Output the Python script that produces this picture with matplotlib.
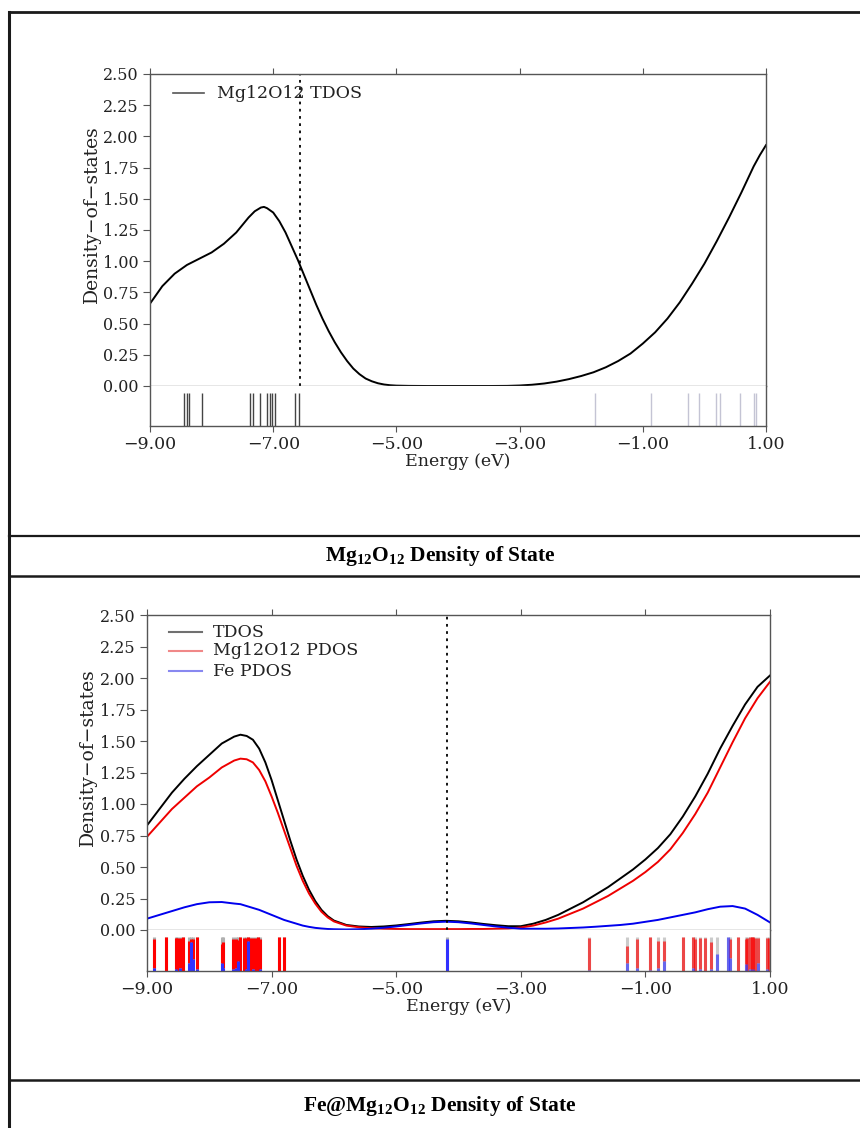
import numpy as np
import matplotlib
matplotlib.use("Agg")
import matplotlib.pyplot as plt
from matplotlib.lines import Line2D
from matplotlib.ticker import FuncFormatter

plt.rcParams['mathtext.fontset'] = 'custom'
plt.rcParams['mathtext.rm'] = 'Liberation Serif'
plt.rcParams['mathtext.bf'] = 'Liberation Serif:bold'

# ---------------- data: Mg12O12 ----------------
top_E = [-9.0, -8.8, -8.6, -8.4, -8.2, -8.0, -7.8, -7.6, -7.5, -7.4, -7.3, -7.2, -7.15,
         -7.1, -7.0, -6.9, -6.8, -6.7, -6.6, -6.5, -6.4, -6.3, -6.2, -6.1, -6.0, -5.9,
         -5.8, -5.7, -5.6, -5.5, -5.4, -5.3, -5.2, -5.1, -5.0, -4.8, -4.5, -4.0, -3.5,
         -3.2, -3.0, -2.8, -2.6, -2.4, -2.2, -2.0, -1.8, -1.6, -1.4, -1.2, -1.0, -0.8,
         -0.6, -0.4, -0.2, 0.0, 0.2, 0.4, 0.6, 0.8, 0.9, 1.0]
top_tdos = [0.66, 0.80, 0.90, 0.97, 1.02, 1.07, 1.14, 1.23, 1.29, 1.35, 1.40, 1.43, 1.435,
            1.425, 1.39, 1.32, 1.23, 1.12, 1.01, 0.89, 0.77, 0.65, 0.54, 0.44, 0.35, 0.27,
            0.20, 0.14, 0.095, 0.06, 0.038, 0.022, 0.012, 0.006, 0.003, 0.001, 0.0, 0.0, 0.0,
            0.001, 0.004, 0.01, 0.02, 0.035, 0.055, 0.08, 0.11, 0.15, 0.20, 0.26, 0.34, 0.43,
            0.54, 0.67, 0.82, 0.98, 1.16, 1.35, 1.55, 1.76, 1.85, 1.93]
top_occ_levels = [-8.443, -8.404, -8.362, -8.156, -7.372, -7.333, -7.209, -7.106,
                  -7.052, -7.015, -6.976, -6.651, -6.576]
top_virt_levels = [-1.776, -0.867, -0.266, -0.093, 0.193, 0.248, 0.583, 0.805, 0.838]
top_homo = -6.57

# ---------------- data: Fe@Mg12O12 ----------------
bot_E = [-9.0, -8.8, -8.6, -8.4, -8.2, -8.0, -7.8, -7.6, -7.5, -7.4, -7.3, -7.2, -7.1,
         -7.0, -6.9, -6.8, -6.7, -6.6, -6.5, -6.4, -6.3, -6.2, -6.1, -6.0, -5.8, -5.6,
         -5.4, -5.2, -5.0, -4.8, -4.6, -4.4, -4.2, -4.0, -3.8, -3.6, -3.4, -3.2, -3.0,
         -2.8, -2.6, -2.4, -2.2, -2.0, -1.8, -1.6, -1.4, -1.2, -1.0, -0.8, -0.6, -0.4,
         -0.2, 0.0, 0.2, 0.4, 0.6, 0.8, 1.0]
bot_tdos = [0.83, 0.96, 1.09, 1.20, 1.30, 1.39, 1.48, 1.535, 1.55, 1.54, 1.51, 1.44, 1.33,
            1.19, 1.03, 0.87, 0.71, 0.56, 0.43, 0.32, 0.23, 0.16, 0.11, 0.075, 0.04, 0.028,
            0.024, 0.028, 0.036, 0.047, 0.059, 0.069, 0.073, 0.069, 0.060, 0.048, 0.038,
            0.030, 0.030, 0.05, 0.08, 0.12, 0.17, 0.22, 0.28, 0.34, 0.41, 0.48, 0.56, 0.65,
            0.76, 0.90, 1.06, 1.24, 1.44, 1.62, 1.79, 1.93, 2.02]
bot_mg_pdos = [0.74, 0.85, 0.96, 1.05, 1.14, 1.21, 1.29, 1.345, 1.36, 1.355, 1.33, 1.27,
               1.18, 1.06, 0.93, 0.79, 0.65, 0.51, 0.39, 0.29, 0.21, 0.145, 0.10, 0.068,
               0.035, 0.022, 0.014, 0.01, 0.008, 0.007, 0.007, 0.007, 0.007, 0.007, 0.008,
               0.008, 0.01, 0.012, 0.02, 0.035, 0.06, 0.09, 0.13, 0.17, 0.22, 0.27, 0.33, 0.39,
               0.46, 0.54, 0.64, 0.77, 0.92, 1.09, 1.29, 1.49, 1.68, 1.84, 1.97]
bot_fe_pdos = [0.09, 0.12, 0.15, 0.18, 0.205, 0.22, 0.222, 0.21, 0.205, 0.19, 0.175, 0.16,
               0.14, 0.12, 0.10, 0.08, 0.065, 0.05, 0.035, 0.025, 0.017, 0.012, 0.008, 0.006,
               0.004, 0.006, 0.01, 0.018, 0.028, 0.04, 0.052, 0.062, 0.066, 0.062, 0.052,
               0.04, 0.028, 0.018, 0.01, 0.01, 0.01, 0.012, 0.016, 0.02, 0.026, 0.033, 0.04,
               0.05, 0.065, 0.08, 0.10, 0.12, 0.14, 0.165, 0.185, 0.19, 0.17, 0.12, 0.06]
# sticks: level energy, Fe fraction (blue), Mg12O12 fraction (red); rest grey
bot_levels = [-8.888, -8.695, -8.54, -8.513, -8.47, -8.417, -8.32, -8.294, -8.266, -8.20,
              -7.796, -7.775, -7.625, -7.577, -7.54, -7.507, -7.443, -7.41, -7.379, -7.347,
              -7.294, -7.25, -7.213, -7.186, -6.876, -6.80, -4.18,
              -1.90, -1.30, -1.14, -0.926, -0.80, -0.697, -0.40, -0.231, -0.204, -0.124,
              -0.043, 0.048, 0.154, 0.321, 0.358, 0.49, 0.615, 0.636, 0.679, 0.707, 0.733,
              0.76, 0.80, 0.957, 0.99]
bot_fe_frac = [0.08, 0.0, 0.05, 0.0, 0.10, 0.0, 0.25, 0.85, 0.35, 0.05,
               0.25, 0.10, 0.05, 0.10, 0.30, 0.0, 0.0, 0.05, 0.90, 0.0,
               0.05, 0.0, 0.0, 0.05, 0.0, 0.0, 0.95,
               0.03, 0.25, 0.10, 0.02, 0.10, 0.30, 0.0, 0.10, 0.0, 0.05,
               0.0, 0.05, 0.50, 1.0, 0.40, 0.0, 0.20, 0.0, 0.05, 0.0, 0.05,
               0.0, 0.25, 0.05, 0.0]
bot_mg_frac = [0.88, 1.0, 0.93, 0.97, 0.88, 1.0, 0.65, 0.10, 0.60, 0.95,
               0.55, 0.75, 0.90, 0.85, 0.62, 1.0, 0.97, 0.93, 0.10, 0.97,
               0.93, 0.97, 1.0, 0.90, 1.0, 1.0, 0.0,
               0.95, 0.50, 0.85, 0.98, 0.80, 0.60, 1.0, 0.90, 0.95, 0.92,
               0.97, 0.80, 0.0, 0.0, 0.55, 1.0, 0.75, 0.97, 0.95, 1.0, 0.95,
               0.97, 0.72, 0.92, 0.97]
bot_homo = -4.18

xticks = [-9, -7, -5, -3, -1, 1]

SERIF = 'DejaVu Serif'
SPINE = '#555555'
fmt = FuncFormatter(lambda v, p: f"{v:.2f}".replace('-', '\u2212'))

fig = plt.figure(figsize=(8.6, 11.28), dpi=100)
W, H = 860.0, 1128.0


def fx(px):
    return px / W


def fy(py):
    return 1 - py / H


def make_panel(x0, x1, ytop, yzero, ybot):
    ax = fig.add_axes([fx(x0), fy(yzero), fx(x1 - x0), (yzero - ytop) / H])
    axs = fig.add_axes([fx(x0), fy(ybot), fx(x1 - x0), (ybot - yzero) / H], sharex=ax)
    for a in (ax, axs):
        for s in a.spines.values():
            s.set_color(SPINE)
            s.set_linewidth(1.0)
    ax.set_xlim(-9, 1)
    ax.set_ylim(0, 2.5)
    ax.set_yticks(np.arange(0, 2.51, 0.25))
    ax.yaxis.set_major_formatter(fmt)
    ax.set_xticks(xticks)
    ax.tick_params(axis='x', top=True, bottom=False, labelbottom=False,
                   direction='out', length=4, color=SPINE)
    ax.tick_params(axis='y', direction='out', length=5, color=SPINE, pad=3,
                   labelsize=11.5, labelcolor='#222222')
    for t in ax.get_yticklabels():
        t.set_fontfamily(SERIF)
    ax.spines['bottom'].set_color('#808080')
    ax.set_ylabel('Density\u2212of\u2212states', fontfamily=SERIF, fontsize=13.5,
                  color='#222222', labelpad=4)
    ax.yaxis.set_label_coords(-0.08, 0.55)
    axs.set_ylim(0, 1.22)
    axs.set_yticks([])
    axs.spines['top'].set_visible(False)
    axs.xaxis.set_major_formatter(fmt)
    axs.tick_params(axis='x', direction='out', length=4, color=SPINE, pad=3,
                    labelsize=12.5, labelcolor='#222222')
    for t in axs.get_xticklabels():
        t.set_fontfamily(SERIF)
    axs.set_xlabel('Energy (eV)', fontfamily=SERIF, fontsize=12.5, color='#222222',
                   labelpad=0)
    return ax, axs


# ---------- top panel ----------
ax1, ax1s = make_panel(150, 766, 74, 386, 426)
ax1.plot(top_E, top_tdos, color='black', lw=1.4)
ax1.axvline(top_homo, color='black', lw=1.3, ls=(0, (1.5, 2.5)))
ax1s.vlines(top_occ_levels, 0, 1, color='#444444', lw=1.0)
ax1s.vlines(top_virt_levels, 0, 1, color='#c4c4d4', lw=1.0)
ax1.plot([0.037, 0.088], [0.939, 0.939], transform=ax1.transAxes, color='#555555', lw=1.2)
ax1.text(0.109, 0.939, 'Mg12O12 TDOS', transform=ax1.transAxes, va='center', ha='left',
         fontfamily=SERIF, fontsize=12.5, color='#222222')

# ---------- bottom panel ----------
ax2, ax2s = make_panel(147, 770, 615, 930, 971)
ax2.plot(bot_E, bot_tdos, color='black', lw=1.4)
ax2.plot(bot_E, bot_mg_pdos, color='#ee0000', lw=1.4)
ax2.plot(bot_E, bot_fe_pdos, color='#0000ee', lw=1.4)
ax2.axvline(bot_homo, color='black', lw=1.3, ls=(0, (1.5, 2.5)))
lv = np.array(bot_levels)
fb = np.array(bot_fe_frac)
fr = np.array(bot_mg_frac)
occ = lv <= bot_homo + 0.01
for mask, alpha in ((occ, 1.0), (~occ, 0.65)):
    ax2s.vlines(lv[mask], 0, 1, color='#b0b0b0', lw=2.2, alpha=alpha)
    ax2s.vlines(lv[mask], fb[mask], np.minimum(fb[mask] + fr[mask], 1), color='#ff0000',
                lw=2.2, alpha=alpha)
    ax2s.vlines(lv[mask], 0, fb[mask], color='#3030ff', lw=2.2, alpha=alpha)

legend_rows = [('TDOS', '#707070', 0.946), ('Mg12O12 PDOS', '#f08888', 0.886),
               ('Fe PDOS', '#8888f0', 0.822)]
for label, col, yy in legend_rows:
    ax2.plot([0.035, 0.088], [yy, yy], transform=ax2.transAxes, color=col, lw=1.5)
    ax2.text(0.106, yy, label, transform=ax2.transAxes, va='center', ha='left',
             fontfamily=SERIF, fontsize=12.5, color='#222222')

# ---------- captions ----------
fig.text(fx(440), fy(556), r'Mg$_{\mathbf{12}}$O$_{\mathbf{12}}$ Density of State',
         ha='center', va='center', fontfamily='Liberation Serif', fontweight='bold',
         fontsize=15.5)
fig.text(fx(440), fy(1106), r'Fe@Mg$_{\mathbf{12}}$O$_{\mathbf{12}}$ Density of State',
         ha='center', va='center', fontfamily='Liberation Serif', fontweight='bold',
         fontsize=15.5)

# ---------- table borders ----------
for (xa, ya, xb, yb, lw) in [(9, 12, 860, 12, 2.0), (9, 12, 9, 1128, 2.2),
                             (9, 535.5, 860, 535.5, 1.6), (9, 576, 860, 576, 1.8),
                             (9, 1080, 860, 1080, 1.8)]:
    fig.add_artist(Line2D([fx(xa), fx(xb)], [fy(ya), fy(yb)], transform=fig.transFigure,
                          color='#1a1a1a', lw=lw))

fig.savefig('out.png', dpi=100, facecolor='white')
